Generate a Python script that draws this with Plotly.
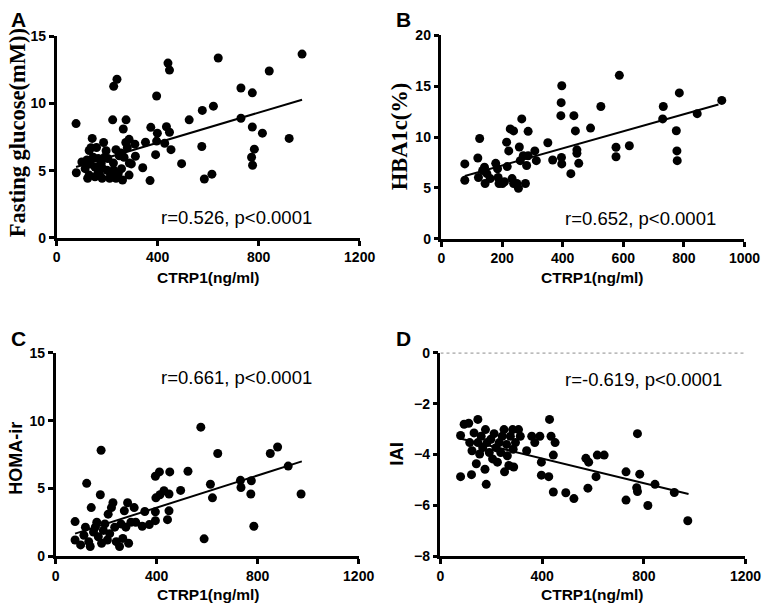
import plotly.graph_objects as go

# ---------------- DATA ----------------
# Panel A: CTRP1 vs fasting glucose
a_x = [77, 78, 100, 120, 129, 136, 141, 129, 123, 145, 152, 158, 165, 177, 181, 180, 186, 190, 200, 213,
       225, 226, 235, 235, 244, 255, 257, 264, 267, 274, 287, 287, 288, 275, 310, 312, 341, 352, 370, 373,
       392, 396, 396, 399, 428, 435, 441, 447, 447, 453, 495, 525, 575, 577, 585, 615, 621, 640, 730, 730,
       772, 775, 775, 776, 783, 815, 842, 921, 972, 226, 239, 222, 113, 133, 165, 171, 203, 210, 248, 261,
       280, 296, 152, 196]
a_y = [8.5, 4.84, 5.64, 5.8, 6.5, 6.7, 7.4, 4.67, 4.43, 6.0, 5.27, 6.72, 4.9, 5.56, 5.18, 4.43, 7.09, 6.0, 5.03, 4.79,
       5.56, 5.03, 4.43, 6.56, 4.79, 6.31, 5.15, 8.1, 6.0, 7.09, 7.33, 4.67, 5.56, 8.78, 6.97, 6.07, 5.22, 7.11, 4.26, 8.22,
       6.19, 7.2, 10.55, 7.79, 7.04, 8.27, 13.0, 12.48, 7.86, 6.56, 5.52, 8.78, 6.8, 9.48, 4.38, 4.74, 9.8, 13.38, 11.15, 8.9,
       6.0, 10.79, 8.25, 5.4, 6.6, 7.79, 12.41, 7.4, 13.67, 11.27, 11.8, 8.78, 5.15, 5.5, 5.9, 4.67, 5.9, 4.43, 6.1, 4.3,
       6.7, 5.5, 4.55, 6.48]
a_fit_x = [77, 972]
a_fit_y = [5.27, 10.28]

# Panel B: CTRP1 vs HBA1c
b_x = [77, 77, 126, 120, 122, 136, 142, 144, 150, 161, 179, 185, 187, 190, 201, 208, 215, 217, 222, 227,
       238, 233, 238, 249, 254, 260, 257, 265, 270, 277, 281, 286, 286, 308, 313, 351, 367, 394, 397, 395,
       396, 397, 427, 437, 442, 447, 447, 453, 492, 526, 587, 576, 576, 620, 732, 730, 785, 775, 777, 778,
       844, 925]
b_y = [7.36, 5.76, 9.86, 7.94, 6.02, 6.72, 7.04, 5.44, 6.4, 5.92, 7.42, 6.88, 6.02, 5.44, 5.44, 5.6, 9.5, 7.1, 8.64, 10.8,
       10.6, 5.92, 5.44, 5.44, 4.96, 7.68, 9.02, 11.78, 8.16, 5.44, 7.2, 10.56, 8.16, 8.64, 7.68, 9.44, 7.74, 12.1, 15.04, 13.38,
       8.0, 7.36, 6.4, 12.1, 10.6, 8.74, 8.4, 7.42, 10.88, 13.0, 16.06, 9.0, 8.06, 9.15, 13.0, 11.78, 14.34, 10.62, 8.64, 7.68,
       12.3, 13.6]
b_fit_x = [77, 914]
b_fit_y = [6.18, 13.2]

# Panel C: CTRP1 vs HOMA-ir
c_x = [77, 77, 99, 112, 118, 123, 131, 137, 141, 150, 157, 163, 169, 177, 180, 182, 189, 195, 205, 208,
       214, 221, 227, 234, 240, 253, 259, 266, 272, 278, 285, 289, 298, 311, 317, 343, 353, 371, 395, 395,
       397, 395, 411, 413, 429, 443, 449, 449, 452, 495, 524, 575, 588, 613, 621, 642, 732, 734, 773, 775,
       785, 850, 879, 921, 972]
c_y = [2.56, 1.2, 0.84, 1.55, 2.15, 5.38, 1.08, 0.72, 3.59, 1.79, 2.15, 2.51, 1.44, 4.54, 7.82, 0.96, 1.91, 2.39, 1.2, 3.11,
       1.67, 3.59, 3.95, 2.15, 1.08, 0.72, 2.39, 1.32, 3.35, 2.15, 3.95, 0.96, 2.51, 3.59, 2.51, 2.22, 3.3, 2.34, 3.28, 2.63,
       4.31, 5.9, 6.22, 4.54, 4.83, 2.7, 3.35, 4.59, 6.22, 4.86, 6.27, 9.52, 1.29, 5.31, 4.31, 7.58, 5.6, 5.07, 4.59, 5.57,
       2.22, 7.58, 8.06, 6.65, 4.59]
c_fit_x = [77, 975]
c_fit_y = [1.67, 7.0]

# Panel D: CTRP1 vs IAI
d_x = [79, 79, 93, 111, 115, 122, 124, 132, 141, 147, 147, 154, 160, 166, 175, 177, 180, 183, 192, 198,
       205, 211, 218, 224, 231, 237, 243, 250, 252, 260, 263, 269, 275, 284, 286, 288, 295, 307, 314, 339,
       359, 371, 391, 397, 397, 426, 429, 435, 451, 444, 444, 493, 525, 572, 583, 580, 612, 617, 644, 730,
       730, 775, 784, 772, 775, 816, 844, 920, 973]
d_y = [-3.25, -4.87, -2.81, -2.77, -3.53, -4.79, -3.85, -3.15, -4.36, -2.62, -3.53, -3.98, -3.28, -3.73, -4.58, -3.02, -5.17, -3.53, -3.92, -3.4,
       -4.17, -3.18, -3.73, -4.3, -3.53, -3.92, -3.28, -3.02, -4.68, -3.6, -4.05, -4.43, -3.28, -3.02, -3.79, -4.49, -3.53, -3.02, -3.28, -3.85,
       -3.28, -3.53, -3.28, -4.3, -4.81, -4.87, -2.62, -3.28, -3.53, -4.02, -5.47, -5.5, -5.73, -4.15, -4.3, -5.32, -4.87, -4.02, -4.02, -4.68,
       -5.79, -3.18, -4.77, -5.3, -5.45, -6.0, -5.17, -5.49, -6.6]
d_fit_x = [77, 976]
d_fit_y = [-3.37, -5.55]
d_zero_x = [0, 1200]
d_zero_y = [0, 0]

panel_letters = ["A", "B", "C", "D"]
stats_text = ["r=0.526, p<0.0001", "r=0.652, p<0.0001", "r=0.661, p<0.0001", "r=-0.619, p<0.0001"]
x_title = "CTRP1(ng/ml)"
y_titles = ["Fasting glucose(mM))", "HBA1c(%)", "HOMA-ir", "IAI"]

# ---------------- LAYOUT HELPERS ----------------
W, H = 779, 614


def px_x(p):
    return p / W


def px_y(p):
    return 1 - p / H


SANS = "Liberation Sans"
SERIF = "Liberation Serif"

fig = go.Figure()

panels = [
    dict(x=a_x, y=a_y, fx=a_fit_x, fy=a_fit_y, xa="x", ya="y"),
    dict(x=b_x, y=b_y, fx=b_fit_x, fy=b_fit_y, xa="x2", ya="y2"),
    dict(x=c_x, y=c_y, fx=c_fit_x, fy=c_fit_y, xa="x3", ya="y3"),
    dict(x=d_x, y=d_y, fx=d_fit_x, fy=d_fit_y, xa="x4", ya="y4"),
]

for p in panels:
    fig.add_trace(go.Scatter(x=p["x"], y=p["y"], mode="markers", xaxis=p["xa"], yaxis=p["ya"],
                             marker=dict(color="black", size=9, line=dict(width=0)),
                             showlegend=False, hoverinfo="skip", cliponaxis=False))
    fig.add_trace(go.Scatter(x=p["fx"], y=p["fy"], mode="lines", xaxis=p["xa"], yaxis=p["ya"],
                             line=dict(color="black", width=2), showlegend=False, hoverinfo="skip"))

fig.add_trace(go.Scatter(x=d_zero_x, y=d_zero_y, mode="lines", xaxis="x4", yaxis="y4",
                         line=dict(color="black", width=1, dash="dot"), showlegend=False,
                         hoverinfo="skip"))

tickfont = dict(family=SANS, size=14, color="black", weight="bold")

common_axis = dict(showline=True, linecolor="black", linewidth=2.5, ticks="outside", ticklen=5,
                   tickwidth=2.5, tickcolor="black", showgrid=False, zeroline=False,
                   tickfont=tickfont, fixedrange=True)

# domains in pixels: (left, right, top, bottom)
doms = [(54, 365, 29, 236), (449, 760, 28, 237), (53, 364, 354, 563), (448, 761, 354, 563)]
xranges = [[0, 1200], [0, 1000], [0, 1200], [0, 1200]]
xticks = [[0, 400, 800, 1200], [0, 200, 400, 600, 800, 1000], [0, 400, 800, 1200], [0, 400, 800, 1200]]
yranges = [[0, 15], [0, 20], [0, 15], [-8, 0]]
yticks = [[0, 5, 10, 15], [0, 5, 10, 15, 20], [0, 5, 10, 15], [-8, -6, -4, -2, 0]]

layout_axes = {}
for i, (l, r, t, b) in enumerate(doms):
    sx = "" if i == 0 else str(i + 1)
    layout_axes["xaxis" + sx] = dict(common_axis, domain=[px_x(l), px_x(r)], range=xranges[i],
                                     tickvals=xticks[i], anchor="y" + sx)
    layout_axes["yaxis" + sx] = dict(common_axis, domain=[px_y(b), px_y(t)], range=yranges[i],
                                     tickvals=yticks[i], anchor="x" + sx)

fig.update_layout(**layout_axes)

annotations = []
# panel letters
letter_pos = [(15, 12), (410, 12), (15, 339), (410, 339)]
for letter, (lx, ly) in zip(panel_letters, letter_pos):
    annotations.append(dict(text=letter, x=px_x(lx), y=px_y(ly), xref="paper", yref="paper",
                            xanchor="center", yanchor="middle", showarrow=False,
                            font=dict(family=SANS, size=21, color="black", weight="bold")))

# stats annotations in data coords
stat_pos = [(713, 1.52, "x", "y"), (656, 1.98, "x2", "y2"), (716, 13.2, "x3", "y3"), (799, -1.05, "x4", "y4")]
for txt, (sx_, sy_, xr, yr) in zip(stats_text, stat_pos):
    annotations.append(dict(text=txt, x=sx_, y=sy_, xref=xr, yref=yr, xanchor="center",
                            yanchor="middle", showarrow=False,
                            font=dict(family=SANS, size=18.5, color="black")))

# x titles
xt_pos = [(209, 277), (604, 277), (209, 602), (604, 602)]
for (tx, ty) in xt_pos:
    annotations.append(dict(text=x_title, x=px_x(tx), y=px_y(ty), xref="paper", yref="paper",
                            xanchor="center", yanchor="middle", showarrow=False,
                            font=dict(family=SANS, size=15.5, color="black", weight="bold")))

# y titles
yt_specs = [((14, 128), SERIF, 22.5), ((406, 132), SERIF, 22.5), ((12, 462), SANS, 18), ((402, 458), SANS, 18.5)]
for txt, ((tx, ty), fam, sz) in zip(y_titles, yt_specs):
    annotations.append(dict(text=txt, x=px_x(tx), y=px_y(ty), xref="paper", yref="paper",
                            xanchor="center", yanchor="middle", showarrow=False, textangle=-90,
                            font=dict(family=fam, size=sz, color="black", weight="bold")))

fig.update_layout(annotations=annotations, width=W, height=H,
                  margin=dict(l=0, r=0, t=0, b=0),
                  paper_bgcolor="white", plot_bgcolor="white")

fig.write_html("out.html", config={"displayModeBar": False},
               post_script="document.body.style.margin='0';document.body.style.padding='0';")
